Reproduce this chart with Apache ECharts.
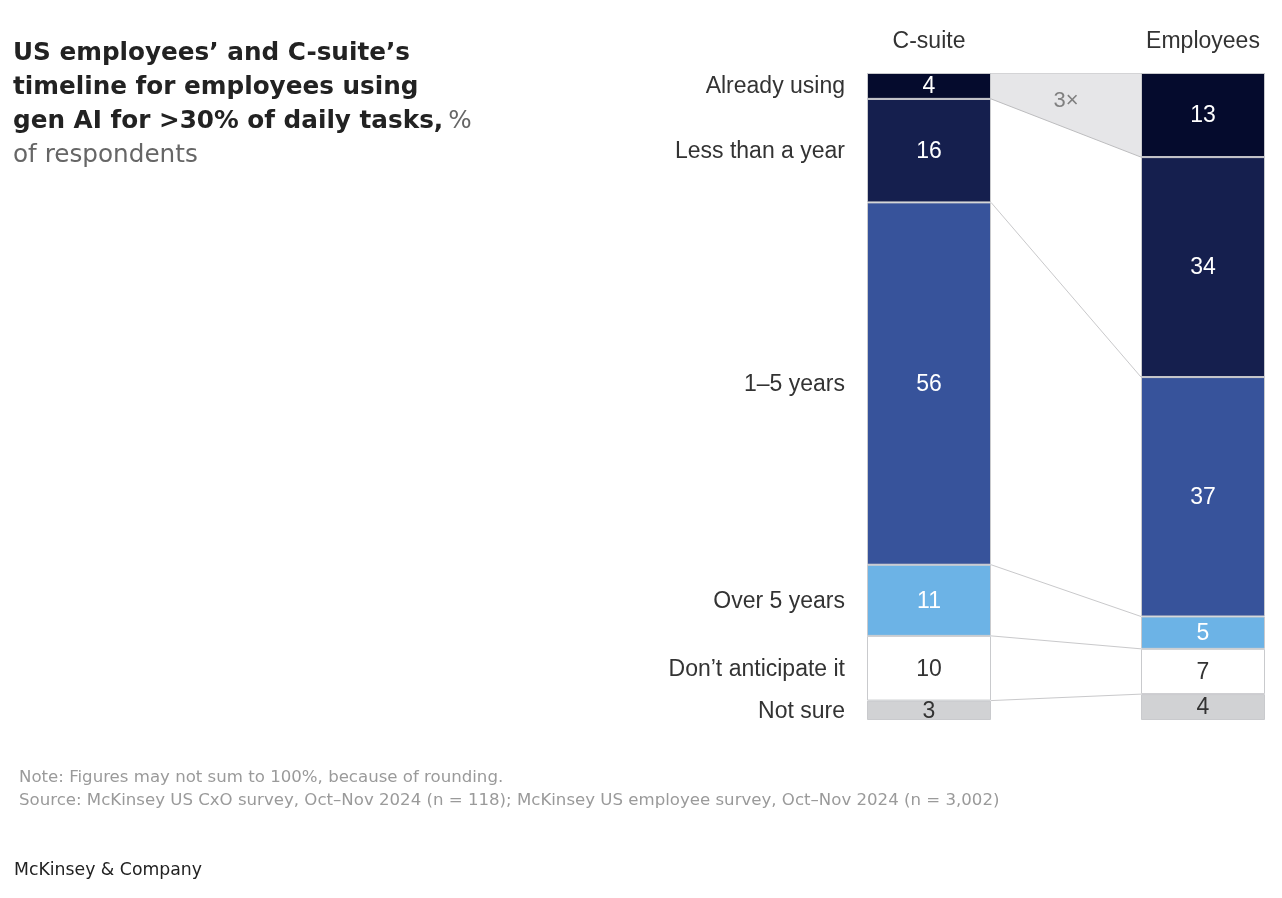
<!DOCTYPE html>
<html>
<head>
<meta charset="utf-8">
<script src="https://cdn.jsdelivr.net/npm/echarts@6/dist/echarts.min.js"></script>
<style>
  html, body { margin: 0; padding: 0; background: #fff; }
  #chart { width: 1282px; height: 898px; }
</style>
</head>
<body>
<div id="chart"></div>
<script>
// middle slot is an empty gap between the two bars
const groups = ['C-suite', '', 'Employees'];
const segments = ['Already using', 'Less than a year', '1–5 years', 'Over 5 years', 'Don’t anticipate it', 'Not sure'];
const cSuite = [4, 16, 56, 11, 10, 3];
const employees = [13, 34, 37, 5, 7, 4];
const segmentColors = ['#050b2d', '#151f4e', '#37539b', '#6cb3e6', '#ffffff', '#d1d2d4'];
const valueColors = ['#ffffff', '#ffffff', '#ffffff', '#ffffff', '#333333', '#333333'];

const BAR_W = 124;
const HALF = BAR_W / 2;
const FONT = '"Liberation Sans", Arial, sans-serif';
const WIDE = '"DejaVu Sans", sans-serif';

// running totals at each segment edge
const cumulate = arr => arr.reduce((acc, v) => { acc.push(acc[acc.length - 1] + v); return acc; }, [0]);
const cumC = cumulate(cSuite);
const cumE = cumulate(employees);

// connector lines between the bars (skip the very top and bottom)
const connectors = [];
for (let i = 1; i < segments.length; i++) connectors.push([cumC[i], cumE[i]]);

// midpoints of the C-suite segments for the row names
const rowLabels = segments.map((name, i) => [(cumC[i] + cumC[i + 1]) / 2, name]);

const ratio = Math.round(employees[0] / cSuite[0]) + '×';

const myChart = echarts.init(document.getElementById('chart'));

const barSeries = segments.map((name, i) => ({
  name: name,
  type: 'bar',
  stack: 'total',
  barWidth: BAR_W,
  data: [cSuite[i], '-', employees[i]],
  itemStyle: { color: segmentColors[i], borderColor: '#c9cacd', borderWidth: 1 },
  label: {
    show: true,
    position: 'inside',
    offset: [0, 1],
    color: valueColors[i],
    fontFamily: FONT,
    fontSize: 23
  },
  emphasis: { disabled: true },
  z: 3
}));

const option = {
  backgroundColor: '#fff',
  animation: false,
  title: [
    {
      left: 8,
      top: 32,
      text: '{b|US employees’ and C-suite’s}\n{b|timeline for employees using}\n{b|gen AI for >30% of daily tasks,} {n|%}\n{n|of respondents}',
      textStyle: {
        rich: {
          b: { fontFamily: WIDE, fontWeight: 'bold', fontSize: 24.7, color: '#222', lineHeight: 34 },
          n: { fontFamily: WIDE, fontWeight: 'normal', fontSize: 24.7, color: '#666', lineHeight: 34 }
        }
      }
    },
    {
      left: 14,
      top: 761,
      text: 'Note: Figures may not sum to 100%, because of rounding.\nSource: McKinsey US CxO survey, Oct–Nov 2024 (n = 118); McKinsey US employee survey, Oct–Nov 2024 (n = 3,002)',
      textStyle: { fontFamily: WIDE, fontWeight: 'normal', fontSize: 16.6, color: '#9a9a9a', lineHeight: 23 }
    },
    {
      left: 9,
      top: 857,
      text: 'McKinsey & Company',
      textStyle: { fontFamily: WIDE, fontWeight: 'normal', fontSize: 17.3, color: '#222' }
    }
  ],
  grid: { left: 860.5, top: 73, width: 411, height: 647 },
  xAxis: {
    type: 'category',
    position: 'top',
    data: groups,
    axisLine: { show: false },
    axisTick: { show: false },
    axisLabel: { color: '#333', fontFamily: FONT, fontSize: 23, margin: 20, interval: 0 }
  },
  yAxis: {
    type: 'value',
    inverse: true,
    min: 0,
    max: 100,
    show: false
  },
  series: [
    ...barSeries,
    {
      type: 'custom',
      name: 'connectors',
      data: connectors,
      z: 2,
      silent: true,
      renderItem: (params, api) => {
        const c = api.value(0);
        const e = api.value(1);
        const a = api.coord([0, c]);
        const b = api.coord([2, e]);
        const x1 = a[0] + HALF;
        const x2 = b[0] - HALF;
        if (params.dataIndex === 0) {
          const top = api.coord([0, 0])[1];
          const midX = (x1 + x2) / 2;
          const midBottom = (a[1] + b[1]) / 2;
          return {
            type: 'group',
            children: [
              { type: 'polygon', shape: { points: [[x1, top], [x2, top], [x2, b[1]], [x1, a[1]]] }, style: { fill: '#e6e6e8' } },
              { type: 'line', shape: { x1: x1, y1: top + 0.5, x2: x2, y2: top + 0.5 }, style: { stroke: '#d4d4d6', lineWidth: 1 } },
              { type: 'line', shape: { x1: x1, y1: a[1], x2: x2, y2: b[1] }, style: { stroke: '#bdbdbf', lineWidth: 1 } },
              { type: 'text', style: { x: midX, y: (top + midBottom) / 2, text: ratio, fill: '#808080', font: '22px ' + FONT, align: 'center', verticalAlign: 'middle' } }
            ]
          };
        }
        return { type: 'line', shape: { x1: x1, y1: a[1], x2: x2, y2: b[1] }, style: { stroke: '#c9c9cb', lineWidth: 1 } };
      }
    },
    {
      type: 'custom',
      name: 'rows',
      data: rowLabels,
      z: 2,
      silent: true,
      renderItem: (params, api) => {
        const p = api.coord([0, api.value(0)]);
        return {
          type: 'text',
          style: {
            x: p[0] - HALF - 22,
            y: p[1] + 1,
            text: rowLabels[params.dataIndex][1],
            fill: '#333',
            font: '23px ' + FONT,
            align: 'right',
            verticalAlign: 'middle'
          }
        };
      }
    }
  ]
};

myChart.setOption(option);
</script>
</body>
</html>
